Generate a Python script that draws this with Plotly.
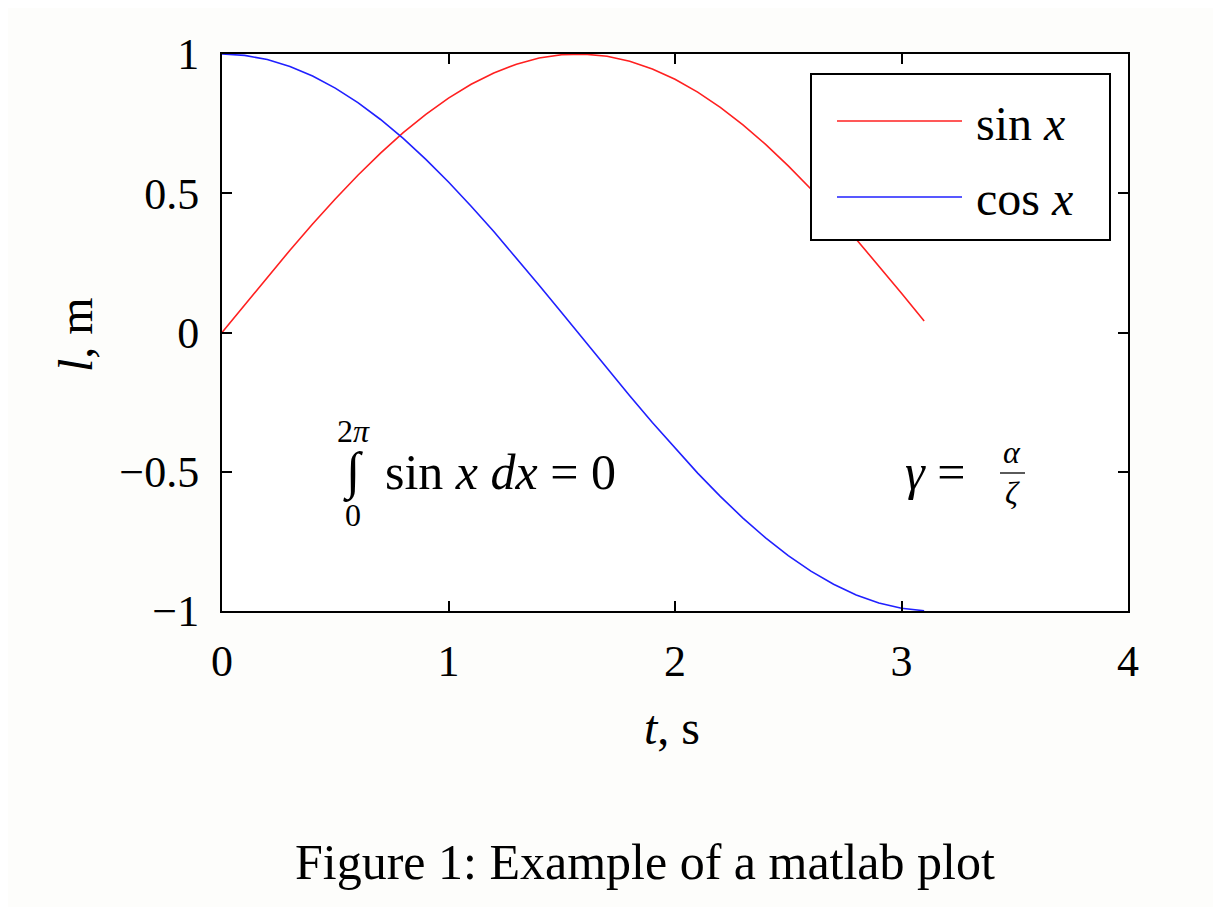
import plotly.graph_objects as go

# ---- data ----
t = [0.0, 0.1, 0.2, 0.3, 0.4, 0.5, 0.6, 0.7, 0.8, 0.9, 1.0, 1.1, 1.2, 1.3, 1.4, 1.5,
     1.6, 1.7, 1.8, 1.9, 2.0, 2.1, 2.2, 2.3, 2.4, 2.5, 2.6, 2.7, 2.8, 2.9, 3.0, 3.1]
sin_vals = [0.0, 0.0998, 0.1987, 0.2955, 0.3894, 0.4794, 0.5646, 0.6442, 0.7174, 0.7833,
            0.8415, 0.8912, 0.9320, 0.9636, 0.9854, 0.9975, 0.9996, 0.9917, 0.9738, 0.9463,
            0.9093, 0.8632, 0.8085, 0.7457, 0.6755, 0.5985, 0.5155, 0.4274, 0.3350, 0.2392,
            0.1411, 0.0416]
cos_vals = [1.0, 0.9950, 0.9801, 0.9553, 0.9211, 0.8776, 0.8253, 0.7648, 0.6967, 0.6216,
            0.5403, 0.4536, 0.3624, 0.2675, 0.1700, 0.0707, -0.0292, -0.1288, -0.2272, -0.3233,
            -0.4161, -0.5048, -0.5885, -0.6663, -0.7374, -0.8011, -0.8569, -0.9041, -0.9422,
            -0.9710, -0.9900, -0.9991]
x_ticks = [0, 1, 2, 3, 4]
x_tick_text = ["0", "1", "2", "3", "4"]
y_ticks = [-1, -0.5, 0, 0.5, 1]
y_tick_text = ["\u22121", "\u22120.5", "0", "0.5", "1"]
series_names = ["sin <i>x</i>", "cos <i>x</i>"]
series_colors = ["#ff2020", "#2020ff"]

FONT = "Liberation Serif"
BG = "#fdfdfb"

# page body has an 8px margin; compensate so the plot lands where the reference has it
OFF = 8
W, H = 1221 - OFF, 907 - OFF
ML, MR, MT, MB = 222 - OFF, 93, 54 - OFF, 296

fig = go.Figure()
fig.add_trace(go.Scatter(x=t, y=sin_vals, mode="lines", name=series_names[0],
                         line=dict(color=series_colors[0], width=1.6), showlegend=False))
fig.add_trace(go.Scatter(x=t, y=cos_vals, mode="lines", name=series_names[1],
                         line=dict(color=series_colors[1], width=1.6), showlegend=False))

axis_common = dict(showgrid=False, zeroline=False, showline=True, linecolor="black",
                   linewidth=2, mirror="allticks", ticks="inside", ticklen=10,
                   tickwidth=1.5, tickcolor="black",
                   tickfont=dict(family=FONT, size=44, color="black"))
fig.update_xaxes(range=[0, 4], tickvals=x_ticks, ticktext=x_tick_text,
                 ticklabelstandoff=10, **axis_common)
fig.update_yaxes(range=[-1, 1], tickvals=y_ticks, ticktext=y_tick_text,
                 ticklabelstandoff=12, **axis_common)

def px(xp):
    return (xp - 222) / 906.0

def py(yp):
    return (611 - yp) / 557.0

shapes = []
annotations = []

# manual legend
shapes.append(dict(type="rect", xref="paper", yref="paper", x0=px(811), x1=px(1110),
                   y0=py(240), y1=py(74), line=dict(color="black", width=2),
                   fillcolor="white", layer="above"))
for i, yy in enumerate([121, 197]):
    shapes.append(dict(type="line", xref="paper", yref="paper", x0=px(837), x1=px(962),
                       y0=py(yy), y1=py(yy), line=dict(color=series_colors[i], width=1.6),
                       layer="above"))
    annotations.append(dict(xref="paper", yref="paper", x=px(974), y=py(yy + 2),
                            text=series_names[i], showarrow=False, xanchor="left",
                            yanchor="middle", font=dict(family=FONT, size=48, color="black")))

# integral annotation
annotations.append(dict(x=(353 - 222) / 226.5, y=-0.5, text="\u222b", showarrow=False,
                        font=dict(family=FONT, size=52, color="black"),
                        xanchor="center", yanchor="middle"))
annotations.append(dict(x=(353 - 222) / 226.5, y=-0.355, text="2<i>\u03c0</i>", showarrow=False,
                        font=dict(family=FONT, size=32, color="black"),
                        xanchor="center", yanchor="middle"))
annotations.append(dict(x=(353 - 222) / 226.5, y=-0.655, text="0", showarrow=False,
                        font=dict(family=FONT, size=32, color="black"),
                        xanchor="center", yanchor="middle"))
annotations.append(dict(x=(383 - 222) / 226.5, y=-0.5, text="sin <i>x</i> <i>dx</i> = 0",
                        showarrow=False, font=dict(family=FONT, size=50, color="black"),
                        xanchor="left", yanchor="middle"))

# gamma annotation
annotations.append(dict(x=(903 - 222) / 226.5, y=-0.5, text="<i>\u03b3</i> =", showarrow=False,
                        font=dict(family=FONT, size=50, color="black"),
                        xanchor="left", yanchor="middle"))
annotations.append(dict(x=(1012 - 222) / 226.5, y=-0.43, text="<i>\u03b1</i>", showarrow=False,
                        font=dict(family=FONT, size=32, color="black"),
                        xanchor="center", yanchor="middle"))
annotations.append(dict(x=(1012 - 222) / 226.5, y=-0.575, text="<i>\u03b6</i>", showarrow=False,
                        font=dict(family=FONT, size=32, color="black"),
                        xanchor="center", yanchor="middle"))
shapes.append(dict(type="line", xref="x", yref="y", x0=(1000 - 222) / 226.5,
                   x1=(1025 - 222) / 226.5, y0=-0.5045, y1=-0.5045,
                   line=dict(color="black", width=1.3)))

# axis titles
annotations.append(dict(xref="paper", yref="paper", x=px(672), y=py(727),
                        text="<i>t</i>, s", showarrow=False, xanchor="center",
                        yanchor="middle", font=dict(family=FONT, size=48, color="black")))
annotations.append(dict(xref="paper", yref="paper", x=px(75), y=py(335),
                        text="<i>l</i>, m", showarrow=False, textangle=-90,
                        xanchor="center", yanchor="middle",
                        font=dict(family=FONT, size=48, color="black")))
# caption
annotations.append(dict(xref="paper", yref="paper", x=px(645), y=py(862),
                        text="Figure 1: Example of a matlab plot", showarrow=False,
                        xanchor="center", yanchor="middle",
                        font=dict(family=FONT, size=50, color="black")))

fig.update_layout(width=W, height=H, autosize=False,
                  margin=dict(l=ML, r=MR, t=MT, b=MB),
                  paper_bgcolor=BG, plot_bgcolor="white",
                  shapes=shapes, annotations=annotations, showlegend=False)

fig.write_html("out.html", config={"displayModeBar": False})
